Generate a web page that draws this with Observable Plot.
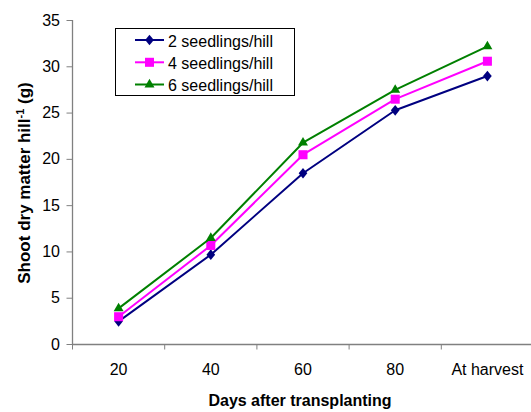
<!DOCTYPE html>
<html><head><meta charset="utf-8">
<script src="https://cdn.jsdelivr.net/npm/d3@7"></script>
<script src="https://cdn.jsdelivr.net/npm/@observablehq/plot@0.6"></script>
<style>
body{margin:0;background:#fff}
#chart{position:relative;width:531px;height:412px}
</style>
</head><body><div id="chart"></div>
<script>
const categories = ["20", "40", "60", "80", "At harvest"];
const seriesNames = ["2 seedlings/hill", "4 seedlings/hill", "6 seedlings/hill"];
const seedlings2 = [2.5, 9.7, 18.5, 25.3, 29.0];
const seedlings4 = [3.0, 10.7, 20.5, 26.5, 30.6];
const seedlings6 = [3.9, 11.5, 21.8, 27.5, 32.2];
const yTicks = [0, 5, 10, 15, 20, 25, 30, 35];
const colors = ["#000080", "#FF00FF", "#008000"];
const xTitle = "Days after transplanting";

const diamond = {draw(ctx, size) {
  const s = Math.sqrt(size), w = 0.47 * s, h = 0.58 * s;
  ctx.moveTo(0, -h); ctx.lineTo(w, 0); ctx.lineTo(0, h); ctx.lineTo(-w, 0); ctx.closePath();
}};
const symbols = [diamond, "square", "triangle"];
const radii = [5.2, 5.1, 3.7];

const allSeries = [seedlings2, seedlings4, seedlings6];
const rows = [];
allSeries.forEach((vals, si) => vals.forEach((v, i) => rows.push({series: seriesNames[si], si, i, v})));

const font = "'Liberation Sans', Arial, sans-serif";
const gray = "#808080";

const marks = [];
marks.push(Plot.ruleY([0], {stroke: gray, strokeWidth: 1.3}));
marks.push(Plot.ruleX([-0.5], {stroke: gray, strokeWidth: 1.3}));
marks.push(Plot.axisY({ticks: yTicks, tickSize: 5.5, tickPadding: 7, stroke: gray, fill: "black", label: null, tickFormat: d => String(d)}));
marks.push(Plot.axisX({ticks: [-0.5, 0.5, 1.5, 2.5, 3.5], tickSize: 5.5, stroke: gray, tickFormat: () => "", label: null}));
marks.push(Plot.axisX({ticks: [0, 1, 2, 3, 4], tickSize: 0, tickPadding: 19, fill: "black", tickFormat: i => categories[i], label: null}));
seriesNames.forEach((name, si) => {
  const d = rows.filter(r => r.si === si);
  marks.push(Plot.line(d, {x: "i", y: "v", stroke: colors[si], strokeWidth: 2}));
  marks.push(Plot.dot(d, {x: "i", y: "v", fill: colors[si], stroke: "none", symbol: symbols[si], r: radii[si]}));
});

const plot = Plot.plot({
  width: 531, height: 412,
  marginTop: 20, marginBottom: 68, marginLeft: 72, marginRight: 0,
  style: {fontFamily: font, fontSize: "16px", background: "white", overflow: "visible"},
  x: {type: "linear", domain: [-0.5, 4.5], range: [72, 533]},
  y: {domain: [0, 35]},
  marks
});
document.getElementById("chart").appendChild(plot);

const svg = d3.select(plot);
// axis titles
svg.append("text").attr("x", 300).attr("y", 406).attr("text-anchor", "middle")
  .attr("font-family", font).attr("font-size", 16).attr("font-weight", "bold").attr("fill", "black").text(xTitle);
const yt = svg.append("text").attr("transform", "translate(29.5,183) rotate(-90)").attr("text-anchor", "middle")
  .attr("font-family", font).attr("font-size", 17).attr("font-weight", "bold").attr("fill", "black");
yt.append("tspan").text("Shoot dry matter hill");
yt.append("tspan").attr("dy", -6).attr("font-size", 11).text("-1");
yt.append("tspan").attr("dy", 6).text(" (g)");

// legend
const lg = svg.append("g").attr("text-anchor", "start");
lg.append("rect").attr("x", 115.5).attr("y", 28.5).attr("width", 179).attr("height", 67)
  .attr("fill", "white").attr("stroke", "black").attr("stroke-width", 1);
const rowY = [40, 62.3, 84.5];
seriesNames.forEach((name, si) => {
  const y = rowY[si];
  lg.append("line").attr("x1", 135).attr("x2", 164).attr("y1", y).attr("y2", y)
    .attr("stroke", colors[si]).attr("stroke-width", 2);
  const t = typeof symbols[si] === "string" ? (symbols[si] === "square" ? d3.symbolSquare : d3.symbolTriangle) : symbols[si];
  lg.append("path").attr("transform", `translate(149.5,${y})`)
    .attr("d", d3.symbol(t, Math.PI * radii[si] * radii[si])()).attr("fill", colors[si]);
  lg.append("text").attr("x", 168).attr("y", y + 6.7).attr("text-anchor", "start").attr("font-family", font).attr("font-size", 16)
    .attr("fill", "black").text(name);
});
</script>
</body></html>
